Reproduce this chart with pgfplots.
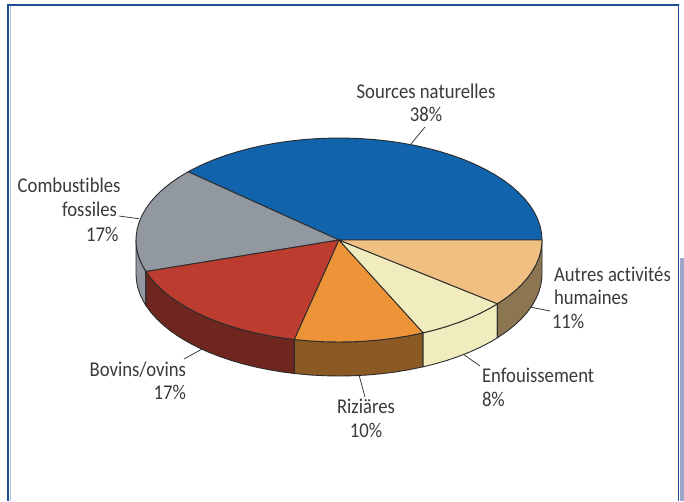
\documentclass[border=0pt]{standalone}
\usepackage{fontspec}
\usepackage{pgfplots}
\usepackage{pgfplotstable}
\pgfplotsset{compat=1.18}
\setmainfont[FakeStretch=0.89,Ligatures=NoCommon]{Carlito}

\definecolor{frameblue}{HTML}{1F4E96}
\definecolor{framelight}{HTML}{A9C3E8}
\definecolor{frameband}{HTML}{9CA6C8}
\definecolor{edge}{HTML}{2B2B2B}
\definecolor{labeltext}{HTML}{3A3A3A}
\definecolor{cblue}{HTML}{1163AB}
\definecolor{cgrey}{HTML}{92989F}
\definecolor{cred}{HTML}{BC3C2F}
\definecolor{corange}{HTML}{EE9438}
\definecolor{ccream}{HTML}{F0ECBE}
\definecolor{cpeach}{HTML}{F0C083}
\definecolor{wgrey}{HTML}{92989F}
\definecolor{wred}{HTML}{6F261F}
\definecolor{worange}{HTML}{8B5A24}
\definecolor{wcream}{HTML}{F0ECBE}
\definecolor{wpeach}{HTML}{8C7551}

% Slices of the upper face: a = angle in degrees, r = radius share, h = 0 top, 1 bottom of the disc
\pgfplotstableread[row sep=\\]{a r h\\
0 0 0\\ 0 1 0\\ 4 1 0\\ 8 1 0\\ 12 1 0\\ 16 1 0\\ 20 1 0\\ 24 1 0\\ 28 1 0\\ 32 1 0\\ 36 1 0\\
40 1 0\\ 44 1 0\\ 48 1 0\\ 52 1 0\\ 56 1 0\\ 60 1 0\\ 64 1 0\\ 68 1 0\\ 72 1 0\\ 76 1 0\\
80 1 0\\ 84 1 0\\ 88 1 0\\ 92 1 0\\ 96 1 0\\ 100 1 0\\ 104 1 0\\ 108 1 0\\ 112 1 0\\ 116 1 0\\
120 1 0\\ 124 1 0\\ 128 1 0\\ 132 1 0\\ 136 1 0\\ 138 1 0\\}\topblue
\pgfplotstableread[row sep=\\]{a r h\\
0 0 0\\ 138 1 0\\ 142 1 0\\ 146 1 0\\ 150 1 0\\ 154 1 0\\ 158 1 0\\ 162 1 0\\ 166 1 0\\ 170 1 0\\
174 1 0\\ 178 1 0\\ 182 1 0\\ 186 1 0\\ 190 1 0\\ 194 1 0\\ 198 1 0\\}\topgrey
\pgfplotstableread[row sep=\\]{a r h\\
0 0 0\\ 198 1 0\\ 202 1 0\\ 206 1 0\\ 210 1 0\\ 214 1 0\\ 218 1 0\\ 222 1 0\\ 226 1 0\\ 230 1 0\\
234 1 0\\ 238 1 0\\ 242 1 0\\ 246 1 0\\ 250 1 0\\ 254 1 0\\ 257.3 1 0\\}\topred
\pgfplotstableread[row sep=\\]{a r h\\
0 0 0\\ 257.3 1 0\\ 262 1 0\\ 266 1 0\\ 270 1 0\\ 274 1 0\\ 278 1 0\\ 282 1 0\\ 286 1 0\\ 290 1 0\\ 294.5 1 0\\}\toporange
\pgfplotstableread[row sep=\\]{a r h\\
0 0 0\\ 294.5 1 0\\ 298 1 0\\ 302 1 0\\ 306 1 0\\ 310 1 0\\ 314 1 0\\ 318 1 0\\ 321.3 1 0\\}\topcream
\pgfplotstableread[row sep=\\]{a r h\\
0 0 0\\ 321.3 1 0\\ 326 1 0\\ 330 1 0\\ 334 1 0\\ 338 1 0\\ 342 1 0\\ 346 1 0\\ 350 1 0\\ 354 1 0\\ 358 1 0\\ 360 1 0\\}\toppeach

% Side walls: upper rim forward, lower rim backward
\pgfplotstableread[row sep=\\]{a r h\\
180 1 0\\ 184 1 0\\ 188 1 0\\ 192 1 0\\ 196 1 0\\ 198 1 0\\
198 1 1\\ 196 1 1\\ 192 1 1\\ 188 1 1\\ 184 1 1\\ 180 1 1\\}\wallgrey
\pgfplotstableread[row sep=\\]{a r h\\
198 1 0\\ 202 1 0\\ 206 1 0\\ 210 1 0\\ 214 1 0\\ 218 1 0\\ 222 1 0\\ 226 1 0\\ 230 1 0\\ 234 1 0\\ 238 1 0\\ 242 1 0\\ 246 1 0\\ 250 1 0\\ 254 1 0\\ 257.3 1 0\\
257.3 1 1\\ 254 1 1\\ 250 1 1\\ 246 1 1\\ 242 1 1\\ 238 1 1\\ 234 1 1\\ 230 1 1\\ 226 1 1\\ 222 1 1\\ 218 1 1\\ 214 1 1\\ 210 1 1\\ 206 1 1\\ 202 1 1\\ 198 1 1\\}\wallred
\pgfplotstableread[row sep=\\]{a r h\\
257.3 1 0\\ 262 1 0\\ 266 1 0\\ 270 1 0\\ 274 1 0\\ 278 1 0\\ 282 1 0\\ 286 1 0\\ 290 1 0\\ 294.5 1 0\\
294.5 1 1\\ 290 1 1\\ 286 1 1\\ 282 1 1\\ 278 1 1\\ 274 1 1\\ 270 1 1\\ 266 1 1\\ 262 1 1\\ 257.3 1 1\\}\wallorange
\pgfplotstableread[row sep=\\]{a r h\\
294.5 1 0\\ 298 1 0\\ 302 1 0\\ 306 1 0\\ 310 1 0\\ 314 1 0\\ 318 1 0\\ 321.3 1 0\\
321.3 1 1\\ 318 1 1\\ 314 1 1\\ 310 1 1\\ 306 1 1\\ 302 1 1\\ 298 1 1\\ 294.5 1 1\\}\wallcream
\pgfplotstableread[row sep=\\]{a r h\\
321.3 1 0\\ 326 1 0\\ 330 1 0\\ 334 1 0\\ 338 1 0\\ 342 1 0\\ 346 1 0\\ 350 1 0\\ 354 1 0\\ 358 1 0\\ 360 1 0\\
360 1 1\\ 358 1 1\\ 354 1 1\\ 350 1 1\\ 346 1 1\\ 342 1 1\\ 338 1 1\\ 334 1 1\\ 330 1 1\\ 326 1 1\\ 321.3 1 1\\}\wallpeach

% Oblique projection of the disc: centre, two semi-axes and thickness
\pgfplotsset{
  /pgfplots/table/disc/.style={
    x expr={339+203*\thisrow{r}*cos(\thisrow{a})},
    y expr={240-102*\thisrow{r}*sin(\thisrow{a})+34*\thisrow{h}}},
  slice/.style={draw=edge, line width=0.9pt, line join=round, fill=#1},
  leader/.style={draw=edge, line width=0.7pt},
}
\tikzset{
  lab/.style={anchor=#1, text=labeltext, inner sep=0pt, outer sep=0pt,
    font=\fontsize{21}{24}\selectfont},
}

\begin{document}
\begin{tikzpicture}
\begin{axis}[
  scale only axis, width=684pt, height=501pt,
  xmin=0, xmax=684, ymin=0, ymax=501, y dir=reverse,
  hide axis, every axis plot/.append style={mark=none},
]
% White page behind the panel, which also fixes the picture's extent
\addplot[draw=none, fill=white] coordinates {(0,0) (684,0) (684,501) (0,501)} --cycle;

% Panel frame
\addplot[draw=none, fill=frameband] coordinates {(680,258) (684,258) (684,501) (680,501)} --cycle;
\addplot[draw=framelight, line width=1pt] coordinates {(10,6) (10,501)};
\addplot[draw=framelight, line width=0.6pt] coordinates {(7,4) (680,4)};
\addplot[draw=frameblue, line width=1.8pt] coordinates {(8.3,501) (8.3,5.2) (678.5,5.2) (678.5,501)};

% Side walls
\addplot[slice=wgrey] table[disc] {\wallgrey} --cycle;
\addplot[slice=wred] table[disc] {\wallred} --cycle;
\addplot[slice=worange] table[disc] {\wallorange} --cycle;
\addplot[slice=wcream] table[disc] {\wallcream} --cycle;
\addplot[slice=wpeach] table[disc] {\wallpeach} --cycle;

% Upper face
\addplot[slice=cblue] table[disc] {\topblue} --cycle;
\addplot[slice=cgrey] table[disc] {\topgrey} --cycle;
\addplot[slice=cred] table[disc] {\topred} --cycle;
\addplot[slice=corange] table[disc] {\toporange} --cycle;
\addplot[slice=ccream] table[disc] {\topcream} --cycle;
\addplot[slice=cpeach] table[disc] {\toppeach} --cycle;

% Leader lines
\addplot[leader] coordinates {(411,144) (425,127)};
\addplot[leader] coordinates {(119,216) (139,218.7)};
\addplot[leader] coordinates {(184,359) (202,349)};
\addplot[leader] coordinates {(359,375) (365,397)};
\addplot[leader] coordinates {(463,354) (480,366)};
\addplot[leader] coordinates {(530,307) (550,311)};

% Labels
\node[lab=base] at (axis cs:426,98) {Sources naturelles};
\node[lab=base] at (axis cs:426,121) {38\%};
\node[lab=base east] at (axis cs:120.5,192) {Combustibles};
\node[lab=base east] at (axis cs:117,216) {fossiles};
\node[lab=base east] at (axis cs:118.5,241) {17\%};
\node[lab=base east] at (axis cs:186,376) {Bovins/ovins};
\node[lab=base east] at (axis cs:186,399) {17\%};
\node[lab=base] at (axis cs:366,413) {Riziäres};
\node[lab=base] at (axis cs:366,437) {10\%};
\node[lab=base west] at (axis cs:482,382) {Enfouissement};
\node[lab=base west] at (axis cs:482,406) {8\%};
\node[lab=base west] at (axis cs:554,281) {Autres activités};
\node[lab=base west] at (axis cs:554,304) {humaines};
\node[lab=base west] at (axis cs:552,328) {11\%};
\end{axis}
\end{tikzpicture}
\end{document}
